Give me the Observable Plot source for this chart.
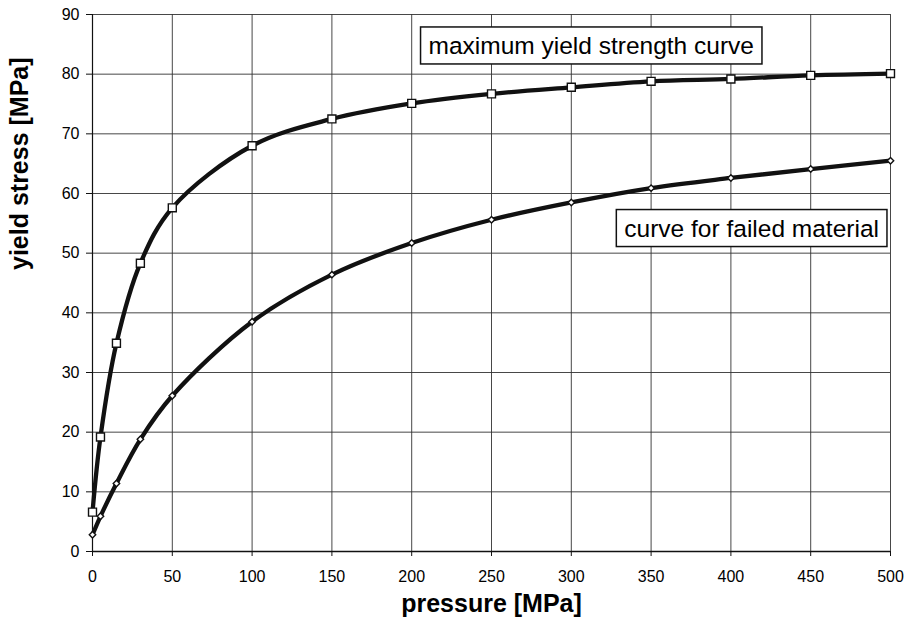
<!DOCTYPE html>
<html>
<head>
<meta charset="utf-8">
<script src="https://cdn.jsdelivr.net/npm/d3@7"></script>
<script src="https://cdn.jsdelivr.net/npm/@observablehq/plot@0.6"></script>
<style>
  html, body { margin: 0; padding: 0; background: #fff; }
  #chart svg { display: block; }
</style>
</head>
<body>
<div id="chart"></div>
<script>
// ---- data ----
const pressure = [0, 5, 15, 30, 50, 100, 150, 200, 250, 300, 350, 400, 450, 500];
const maxYield = [6.6, 19.2, 34.9, 48.3, 57.6, 68.0, 72.5, 75.1, 76.7, 77.8, 78.8, 79.2, 79.8, 80.1];
const failedYield = [2.8, 5.9, 11.4, 18.8, 26.1, 38.5, 46.4, 51.7, 55.6, 58.5, 60.9, 62.6, 64.1, 65.5];
const xTicks = [0, 50, 100, 150, 200, 250, 300, 350, 400, 450, 500];
const yTicks = [0, 10, 20, 30, 40, 50, 60, 70, 80, 90];
const annotationLabels = ["maximum yield strength curve", "curve for failed material"];
const annotationPressure = [312.5, 413];
const annotationStress = [84.7, 54.1];
const xTitle = "pressure [MPa]";
const yTitle = "yield stress [MPa]";

const maxData = pressure.map((p, i) => ({pressure: p, stress: maxYield[i]}));
const failedData = pressure.map((p, i) => ({pressure: p, stress: failedYield[i]}));
const annotations = annotationLabels.map((t, i) => ({label: t, pressure: annotationPressure[i], stress: annotationStress[i]}));

const font = "'Liberation Sans', Arial, Helvetica, sans-serif";

const chart = Plot.plot({
  width: 905,
  height: 618,
  marginLeft: 92,
  marginRight: 15,
  marginTop: 14,
  marginBottom: 67,
  style: {fontFamily: font, background: "#fff", color: "#000"},
  x: {domain: [0, 500]},
  y: {domain: [0, 90]},
  marks: [
    Plot.gridX(xTicks, {stroke: "#333", strokeOpacity: 0.9, strokeWidth: 1}),
    Plot.gridY(yTicks, {stroke: "#333", strokeOpacity: 0.9, strokeWidth: 1}),
    Plot.ruleY([0], {stroke: "#111", strokeWidth: 1.6}),
    Plot.ruleX([0], {stroke: "#111", strokeWidth: 1.2}),
    Plot.axisX(xTicks, {tickSize: 5, tickPadding: 14, fontSize: 16, label: null, stroke: "#111"}),
    Plot.axisY(yTicks, {tickSize: 6, tickPadding: 7, fontSize: 16, label: null, stroke: "#111"}),
    Plot.text([xTitle], {frameAnchor: "bottom", dy: 52, text: d => d, fontSize: 25, fontWeight: "bold", lineAnchor: "middle"}),
    Plot.text([yTitle], {frameAnchor: "left", dx: -73, dy: -13, rotate: -90, text: d => d, fontSize: 25, fontWeight: "bold", lineAnchor: "middle"}),
    Plot.line(maxData, {x: "pressure", y: "stress", stroke: "#111", strokeWidth: 4.3, curve: "catmull-rom"}),
    Plot.line(failedData, {x: "pressure", y: "stress", stroke: "#111", strokeWidth: 4.3, curve: "catmull-rom"}),
    Plot.dot(maxData, {x: "pressure", y: "stress", symbol: "square", r: 4.5, fill: "#fff", stroke: "#111", strokeWidth: 1.4}),
    Plot.dot(failedData, {x: "pressure", y: "stress", symbol: "diamond2", r: 2.9, fill: "#fff", stroke: "#111", strokeWidth: 1.4}),
    Plot.text(annotations, {x: "pressure", y: "stress", text: "label", fontSize: 24.5, fill: "#000", lineAnchor: "middle", textAnchor: "middle"})
  ]
});

document.getElementById("chart").appendChild(chart);

// draw framed boxes behind the annotation texts
const svgNS = "http://www.w3.org/2000/svg";
chart.querySelectorAll("text").forEach(t => {
  if (annotationLabels.includes(t.textContent)) {
    const b = t.getBBox();
    const tr = t.getAttribute("transform");
    const r = document.createElementNS(svgNS, "rect");
    const padX = 8, padY = 5;
    r.setAttribute("x", b.x - padX);
    r.setAttribute("y", b.y - padY);
    r.setAttribute("width", b.width + 2 * padX);
    r.setAttribute("height", b.height + 2 * padY);
    r.setAttribute("fill", "#fff");
    r.setAttribute("stroke", "#111");
    r.setAttribute("stroke-width", "1.5");
    if (tr) r.setAttribute("transform", tr);
    t.parentNode.insertBefore(r, t);
  }
});
</script>
</body>
</html>
